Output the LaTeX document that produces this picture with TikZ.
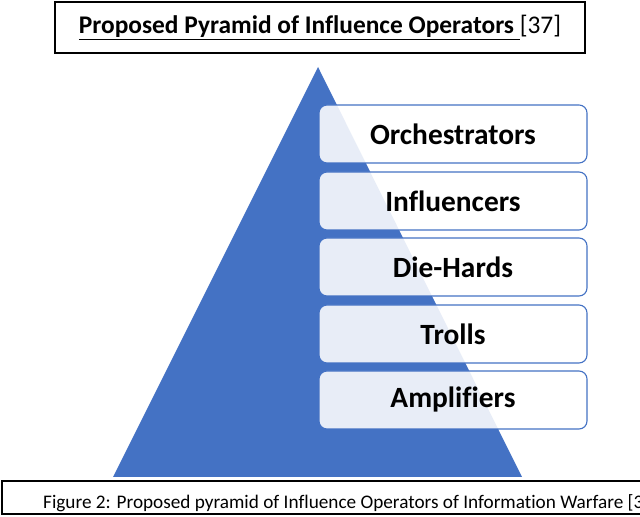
\documentclass[tikz,border=0pt]{standalone}
\usepackage{fontspec}
\usepackage{tikz}
\usepackage{xcolor}
\setmainfont{Carlito}[Ligatures=NoCommon]
\definecolor{pyrblue}{RGB}{68, 114, 196}

\begin{document}
\begin{tikzpicture}[
    x=1bp, y=1bp,
    layer/.style={draw=pyrblue, line width=1.1pt, rounded corners=8bp,
        fill=white, fill opacity=0.88, text opacity=1,
        minimum width=268bp, minimum height=58bp, inner sep=0pt,
        font=\fontsize{29.5}{32}\selectfont\bfseries},
    framebox/.style={draw=black, line width=1.4pt}
]
    \useasboundingbox (0,0) rectangle (640,517);

    % Coordinates
    \coordinate (apex) at (318, 450);
    \coordinate (base_left) at (113, 40);
    \coordinate (base_right) at (522, 40);

    % Title
    \draw[framebox] (55, 464) rectangle (585, 515);
    \node (title) at (320, 489.5)
        {\fontsize{25.5}{28}\selectfont\underline{\textbf{Proposed Pyramid of Influence Operators}\ }[37]};

    % Pyramid
    \fill[pyrblue] (apex) -- (base_right) -- (base_left) -- cycle;

    % Layers
    \node[layer] (orch) at (453, 383) {Orchestrators};
    \node[layer] (infl) at (453, 316) {Influencers};
    \node[layer] (dieh) at (453, 250) {Die-Hards};
    \node[layer] (trolls) at (453, 183) {Trolls};
    \node[layer] (ampl) at (453, 117) {Amplifiers};

    % Caption (runs past the right edge, as in the original)
    \node[anchor=base west, inner sep=0pt] (caption) at (43, 8)
        {\fontsize{19.3}{21}\selectfont Figure 2: Proposed pyramid of Influence Operators of Information Warfare [37]};
    \draw[framebox] (2, 3) rectangle (660, 36);

\end{tikzpicture}
\end{document}
